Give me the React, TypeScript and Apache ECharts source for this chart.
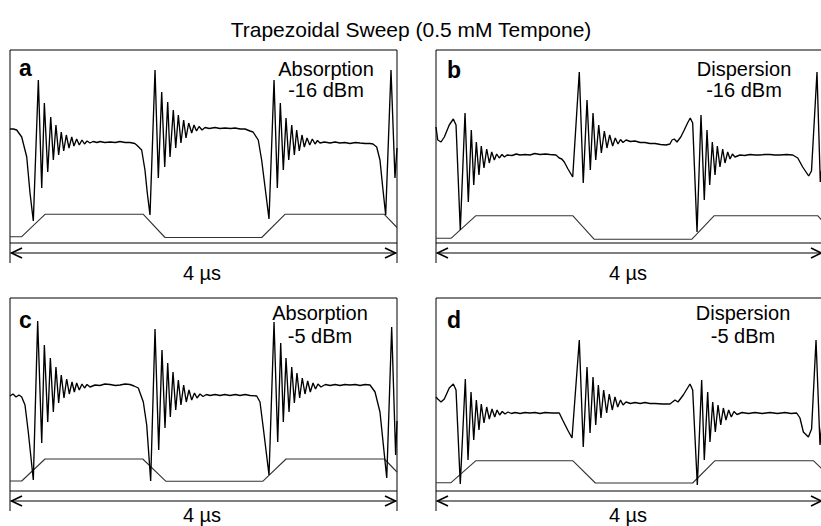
import React, { useEffect, useRef } from "react";
import * as echarts from "echarts";

// ---------- text ----------
const TITLE = "Trapezoidal Sweep (0.5 mM Tempone)";
const panelLetters = ["a", "b", "c", "d"];
const modes = ["Absorption", "Dispersion", "Absorption", "Dispersion"];
const powers = ["-16 dBm", "-16 dBm", "-5 dBm", "-5 dBm"];
const scaleLabel = "4 µs";

// ---------- data: [time (ns), signal (a.u.)] ----------
const aSignal = [
  [0, 114], [35, 114], [69, 113], [121, 106], [173, 86], [207, 50], [241, 22], [293, 163], [328, 55], [355, 140],
  [390, 71], [421, 126], [448, 83], [475, 118], [503, 88], [530, 111], [555, 92], [582, 108], [610, 95], [638, 106],
  [661, 97], [689, 104], [716, 98], [744, 103], [770, 99], [796, 102], [827, 100], [858, 101.5], [900, 100.5],
  [930, 101.5], [980, 100.5], [1034, 101], [1090, 100.5], [1137, 101.5], [1190, 100.5], [1240, 100.5], [1290, 99.5],
  [1309, 98], [1361, 93], [1395, 73], [1419, 50], [1447, 28], [1499, 173], [1533, 65], [1568, 151], [1599, 76],
  [1630, 141], [1654, 86], [1688, 133], [1713, 95], [1740, 128], [1767, 100], [1795, 123], [1819, 105], [1847, 120],
  [1878, 110], [1902, 118], [1928, 112], [1954, 116.5], [1985, 113], [2016, 115.5], [2060, 114.5], [2119, 115.5],
  [2170, 114.5], [2222, 115], [2280, 114.5], [2326, 115], [2380, 114], [2430, 114], [2481, 112], [2512, 111],
  [2566, 103], [2601, 83], [2636, 56], [2677, 24], [2729, 163], [2763, 55], [2794, 140], [2825, 73], [2853, 125],
  [2881, 83], [2912, 118], [2939, 88], [2963, 113], [2990, 92], [3018, 108], [3042, 96], [3070, 105], [3098, 98],
  [3125, 104], [3153, 99], [3178, 102.5], [3204, 100], [3250, 101], [3308, 100], [3360, 101], [3411, 100],
  [3460, 100.5], [3514, 99.5], [3570, 100.5], [3618, 100], [3670, 99.5], [3721, 99.5], [3752, 99], [3790, 96],
  [3824, 83], [3852, 56], [3883, 28], [3938, 173], [3979, 65], [4000, 95],
];
const aSweep = [[0, 6.3], [121, 6.3], [362, 28.7], [1378, 28.7], [1602, 5.5], [2602, 5.5], [2842, 28.7], [3869, 28.7], [4000, 15.5]];

const bSignal = [
  [0, 116], [18, 103], [52, 101], [86, 106], [137, 118], [179, 124], [207, 118], [251, 13], [300, 130], [334, 41],
  [365, 113], [390, 58], [417, 101], [444, 68], [468, 97], [496, 75], [524, 94], [551, 80], [576, 91], [603, 83],
  [627, 89], [654, 85], [682, 88.5], [708, 86], [734, 88], [786, 87.5], [830, 89], [868, 88], [920, 88.5], [972, 88],
  [1020, 89.5], [1075, 88.5], [1130, 89], [1178, 88.5], [1240, 88], [1274, 85], [1300, 84], [1326, 81], [1364, 74],
  [1413, 66], [1481, 171], [1522, 60], [1561, 143], [1595, 73], [1623, 130], [1651, 83], [1682, 118], [1709, 90],
  [1740, 112], [1767, 95], [1795, 108], [1826, 97], [1853, 105], [1881, 99], [1907, 103.5], [1933, 100.5], [1964, 103],
  [2010, 101.5], [2057, 102], [2110, 100.5], [2160, 100.5], [2210, 99.5], [2264, 99.5], [2320, 98.5], [2377, 98],
  [2418, 99], [2440, 103], [2463, 104], [2491, 101], [2530, 106], [2566, 113], [2600, 120], [2628, 125], [2653, 120],
  [2698, 11], [2739, 128], [2773, 43], [2801, 113], [2829, 58], [2856, 101], [2884, 68], [2908, 97], [2935, 76],
  [2963, 94], [2987, 80], [3015, 91], [3039, 84], [3064, 89], [3090, 86], [3142, 88], [3190, 87.5], [3245, 88.5],
  [3300, 88], [3349, 88], [3400, 88.5], [3452, 88.5], [3500, 88], [3556, 88], [3620, 88.5], [3687, 88], [3739, 85],
  [3790, 76], [3852, 67], [3881, 72], [3938, 171], [3972, 61], [4000, 85],
];
const bSweep = [[0, 4.7], [155, 4.7], [413, 27.3], [1413, 27.3], [1636, 3.7], [2643, 3.7], [2876, 27.3], [3945, 27.3], [4000, 21.5]];

const cSignal = [
  [0, 95], [31, 97], [62, 94], [93, 96], [121, 94], [155, 86], [189, 59], [241, 11], [286, 170], [328, 48], [355, 146],
  [390, 69], [417, 133], [448, 79], [475, 124], [503, 88], [530, 116], [558, 93], [586, 112], [613, 97], [641, 109],
  [665, 99], [689, 108], [716, 101], [744, 107], [770, 103], [796, 106.5], [827, 104], [879, 106], [930, 105.5],
  [980, 107], [1034, 106.5], [1090, 105.5], [1137, 106], [1190, 107], [1240, 106.5], [1282, 105], [1326, 103],
  [1378, 89], [1413, 66], [1454, 10], [1499, 162], [1537, 41], [1571, 141], [1602, 63], [1630, 128], [1657, 74],
  [1685, 119], [1713, 81], [1740, 111], [1767, 86], [1795, 106], [1822, 89], [1850, 101], [1878, 91], [1907, 98],
  [1933, 93], [1964, 97], [1995, 94.5], [2030, 96.5], [2067, 95.5], [2120, 96.5], [2171, 95.5], [2220, 96.5],
  [2274, 95.5], [2330, 96.5], [2377, 95.5], [2430, 96.5], [2481, 95.5], [2550, 95], [2584, 89], [2618, 63], [2677, 16],
  [2729, 169], [2767, 49], [2798, 148], [2825, 69], [2853, 133], [2884, 79], [2912, 124], [2939, 88], [2966, 118],
  [2994, 93], [3021, 113], [3049, 97], [3077, 110], [3104, 99], [3132, 108], [3158, 102], [3183, 107], [3214, 104],
  [3260, 106.5], [3308, 105.5], [3360, 106.5], [3411, 105.5], [3460, 106.5], [3514, 106], [3570, 106.5], [3618, 105.5],
  [3670, 106.5], [3721, 106], [3773, 99], [3824, 79], [3859, 46], [3894, 13], [3945, 164], [3986, 36], [4000, 70],
];
const cSweep = [[0, 10], [121, 10], [362, 32], [1372, 32], [1612, 9.7], [2612, 9.7], [2853, 32], [3869, 32], [4000, 19]];

const dSignal = [
  [0, 94], [18, 92], [52, 89], [86, 92], [137, 103], [179, 107], [207, 101], [251, 7], [303, 112], [331, 31], [362, 99],
  [390, 51], [417, 91], [444, 61], [468, 87], [496, 68], [524, 84], [551, 72], [579, 82], [607, 74], [631, 81],
  [658, 76], [685, 79.5], [713, 77], [744, 79], [780, 77.5], [817, 78.5], [870, 77.5], [920, 78.5], [970, 78],
  [1023, 78.5], [1075, 77.5], [1127, 78.5], [1200, 78], [1274, 78], [1309, 71], [1361, 61], [1406, 53], [1481, 151],
  [1522, 44], [1561, 124], [1592, 58], [1623, 114], [1651, 66], [1678, 106], [1705, 73], [1733, 101], [1764, 78],
  [1791, 97], [1822, 81], [1850, 94], [1878, 84], [1907, 91], [1933, 86], [1964, 89], [2010, 87.5], [2057, 88.5],
  [2110, 87.5], [2160, 88.5], [2210, 87.5], [2264, 87.5], [2340, 87], [2418, 87], [2470, 91], [2501, 89], [2556, 96],
  [2625, 107], [2653, 101], [2701, 6], [2746, 111], [2773, 31], [2808, 99], [2832, 49], [2860, 89], [2887, 59],
  [2915, 86], [2943, 66], [2970, 83], [2997, 71], [3025, 81], [3052, 74], [3080, 79.5], [3111, 76.5], [3163, 78.5],
  [3230, 77.5], [3297, 78.5], [3370, 77.5], [3452, 78.5], [3530, 77.5], [3607, 78.5], [3670, 77.5], [3728, 78],
  [3762, 73], [3797, 59], [3849, 54], [3882, 62], [3928, 151], [3969, 46], [4000, 80],
];
const dSweep = [[0, 8.3], [155, 8.3], [413, 30.3], [1413, 30.3], [1647, 8], [2653, 8], [2884, 30.3], [3900, 30.3], [4000, 21]];

const signals = [aSignal, bSignal, cSignal, dSignal];
const sweeps = [aSweep, bSweep, cSweep, dSweep];

// ---------- layout ----------
const PW = 387;
const PH = 193;
const panelPos = [
  { left: 10, top: 50 },
  { left: 436, top: 50 },
  { left: 10, top: 298 },
  { left: 436, top: 298 },
];
const letterPos = [
  { x: 19, y: 68 },
  { x: 447, y: 70 },
  { x: 19, y: 320 },
  { x: 447, y: 320 },
];
const modePos = [
  { x: 326, y: 69, y2: 90 },
  { x: 744, y: 69, y2: 90 },
  { x: 320, y: 312.5, y2: 335.5 },
  { x: 743, y: 312.5, y2: 335.5 },
];
const scaleLabelY = [272.5, 272.5, 515, 515];
const FONT = "'Liberation Sans', Arial, Helvetica, sans-serif";

function buildOption() {
  const grid: any[] = [];
  const xAxis: any[] = [];
  const yAxis: any[] = [];
  const series: any[] = [];
  const graphic: any[] = [];

  panelPos.forEach((p, i) => {
    grid.push({
      left: p.left,
      top: p.top,
      width: PW,
      height: PH,
      show: true,
      borderColor: "#000",
      borderWidth: 1,
      backgroundColor: "transparent",
    });
    xAxis.push({ type: "value", gridIndex: i, min: 0, max: 4000, show: false });
    yAxis.push({ type: "value", gridIndex: i, min: 0, max: 193, show: false });
    series.push({
      type: "line",
      xAxisIndex: i,
      yAxisIndex: i,
      data: sweeps[i],
      showSymbol: false,
      silent: true,
      clip: true,
      lineStyle: { color: "#333", width: 1.1 },
    });
    series.push({
      type: "line",
      xAxisIndex: i,
      yAxisIndex: i,
      data: signals[i],
      showSymbol: false,
      silent: true,
      clip: true,
      lineStyle: { color: "#000", width: 1.35 },
    });

    const x0 = p.left;
    const x1 = p.left + PW;
    const yb = p.top + PH;
    const ya = yb + 10;
    const yv = yb + 20;
    const stroke = { stroke: "#000", lineWidth: 1 };
    graphic.push({ type: "line", shape: { x1: x0, y1: yb, x2: x0, y2: yv }, style: stroke, silent: true });
    graphic.push({ type: "line", shape: { x1: x1, y1: yb, x2: x1, y2: yv }, style: stroke, silent: true });
    graphic.push({ type: "line", shape: { x1: x0 + 1, y1: ya, x2: x1 - 1, y2: ya }, style: { stroke: "#000", lineWidth: 1.2 }, silent: true });
    graphic.push({
      type: "polyline",
      shape: { points: [[x0 + 12, ya - 5], [x0 + 1.5, ya], [x0 + 12, ya + 5]] },
      style: { stroke: "#000", lineWidth: 1.6, fill: "none" },
      silent: true,
    });
    graphic.push({
      type: "polyline",
      shape: { points: [[x1 - 12, ya - 5], [x1 - 1.5, ya], [x1 - 12, ya + 5]] },
      style: { stroke: "#000", lineWidth: 1.6, fill: "none" },
      silent: true,
    });
    graphic.push({
      type: "text",
      x: p.left + 192,
      y: scaleLabelY[i],
      style: { text: scaleLabel, font: `20px ${FONT}`, fill: "#000", align: "center", verticalAlign: "middle" },
      silent: true,
    });
    graphic.push({
      type: "text",
      x: letterPos[i].x,
      y: letterPos[i].y,
      style: { text: panelLetters[i], font: `bold 23px ${FONT}`, fill: "#000", align: "left", verticalAlign: "middle" },
      silent: true,
    });
    graphic.push({
      type: "text",
      x: modePos[i].x,
      y: modePos[i].y,
      style: { text: modes[i], font: `20px ${FONT}`, fill: "#000", align: "center", verticalAlign: "middle" },
      silent: true,
    });
    graphic.push({
      type: "text",
      x: modePos[i].x,
      y: modePos[i].y2,
      style: { text: powers[i], font: `20px ${FONT}`, fill: "#000", align: "center", verticalAlign: "middle" },
      silent: true,
    });
  });

  graphic.push({
    type: "text",
    x: 411,
    y: 29,
    style: { text: TITLE, font: `21px ${FONT}`, fill: "#000", align: "center", verticalAlign: "middle" },
    silent: true,
  });

  return {
    animation: false,
    backgroundColor: "#fff",
    grid,
    xAxis,
    yAxis,
    series,
    graphic,
  };
}

export default function App() {
  const ref = useRef<HTMLDivElement>(null);
  useEffect(() => {
    document.body.style.margin = "0";
    const chart = echarts.init(ref.current!, null, { renderer: "svg" });
    chart.setOption(buildOption());
    return () => chart.dispose();
  }, []);
  return (
    <div style={{ position: "fixed", left: 0, top: 0, width: 821, height: 526, overflow: "hidden", background: "#fff" }}>
      <div ref={ref} style={{ width: 830, height: 526 }} />
    </div>
  );
}
